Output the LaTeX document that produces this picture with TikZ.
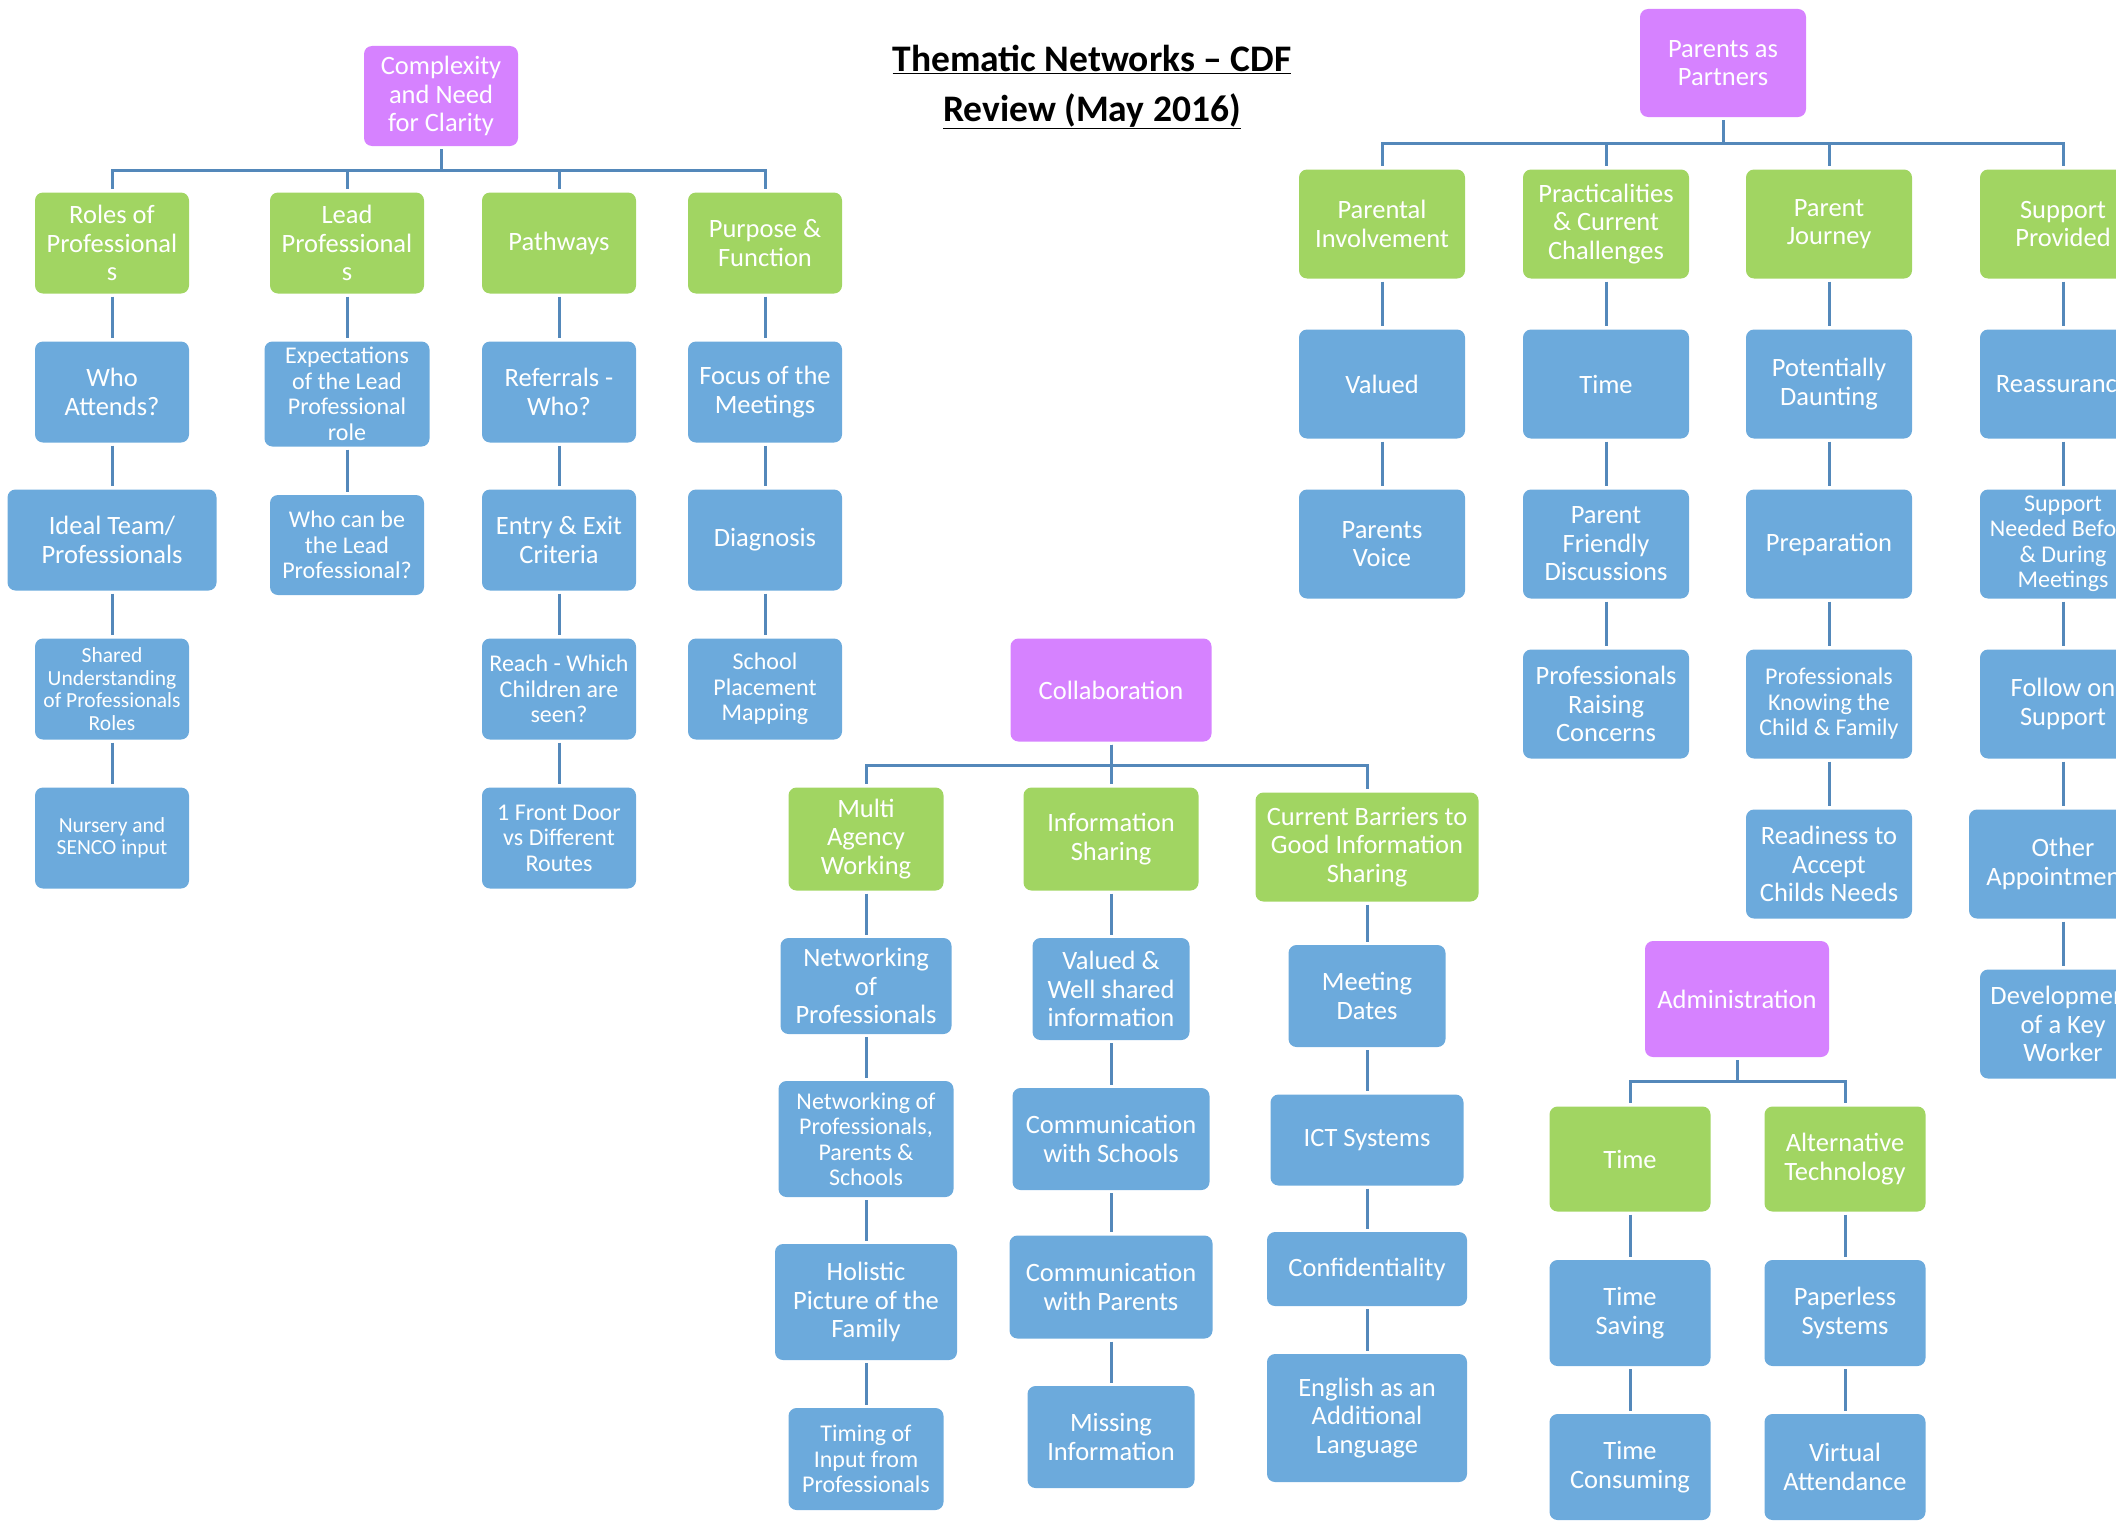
\documentclass[tikz,border=0pt]{standalone}
\usepackage{fontspec}
\setmainfont{Carlito}
\definecolor{purp}{RGB}{214,130,255}
\definecolor{grn}{RGB}{161,213,98}
\definecolor{blu}{RGB}{108,170,220}
\definecolor{lnk}{RGB}{84,136,186}
\begin{document}
\begin{tikzpicture}[x=1pt, y=-1pt,
    wh/.style 2 args={minimum width=#1, minimum height=#2},
    box/.style={rectangle, rounded corners=8pt, text=white, align=center, inner sep=0pt,
                wh={154}{101}, font=\fontsize{26.5}{28.5}\selectfont},
    root/.style={box, fill=purp},
    theme/.style={box, fill=grn},
    sub/.style={box, fill=blu},
    mid/.style={font=\fontsize{24}{25.5}\selectfont},
    tiny/.style={font=\fontsize{21.5}{22.5}\selectfont},
    link/.style={draw=lnk, line width=3pt, shorten >=3pt, shorten <=3pt}]
    \useasboundingbox (0,0) rectangle (2116,1520);
    \clip (0,0) rectangle (2116,1520);

    % タイトル
    \node[font=\fontsize{37.5}{50}\selectfont\bfseries, align=center] (title) at (1092,87)
        {\underline{Thematic Networks – CDF}\\\underline{Review (May 2016)}};

    % Complexity and Need for Clarity
    \node[root, wh={154}{100}] (cnc) at (441,96) {Complexity\\and Need\\for Clarity};
    \node[theme] (roles) at (112,243) {Roles of\\Professional\\s};
    \node[theme] (leadp) at (347,243) {Lead\\Professional\\s};
    \node[theme] (pathw) at (559,243) {Pathways};
    \node[theme] (purpose) at (765,243) {Purpose \&\\Function};
    \node[sub] (attends) at (112,392) {Who\\Attends?};
    \node[sub, mid, wh={165}{105}] (expect) at (347,394) {Expectations\\of the Lead\\Professional\\role};
    \node[sub] (referr) at (559,392) {Referrals -\\Who?};
    \node[sub] (focus) at (765,392) {Focus of the\\Meetings};
    \node[sub, wh={209}{101}] (ideal) at (112,540) {Ideal Team/\\Professionals};
    \node[sub, mid, wh={154}{100}] (whocan) at (347,545) {Who can be\\the Lead\\Professional?};
    \node[sub] (entry) at (559,540) {Entry \& Exit\\Criteria};
    \node[sub] (diag) at (765,540) {Diagnosis};
    \node[sub, tiny] (shared) at (112,689) {Shared\\Understanding\\of Professionals\\Roles};
    \node[sub, mid] (reach) at (559,689) {Reach - Which\\Children are\\seen?};
    \node[sub, mid] (school) at (765,689) {School\\Placement\\Mapping};
    \node[sub, tiny] (nursery) at (112,838) {Nursery and\\SENCO input};
    \node[sub, mid] (front) at (559,838) {1 Front Door\\vs Different\\Routes};

    % Parents as Partners
    \node[root, wh={166}{108}] (pap) at (1723,63) {Parents as\\Partners};
    \node[theme, wh={166}{109}] (pinv) at (1382,224) {Parental\\Involvement};
    \node[theme, wh={166}{109}] (pract) at (1606,224) {Practicalities\\\& Current\\Challenges};
    \node[theme, wh={166}{109}] (pjour) at (1829,224) {Parent\\Journey};
    \node[theme, wh={166}{109}] (suppr) at (2063,224) {Support\\Provided};
    \node[sub, wh={166}{109}] (valued) at (1382,384) {Valued};
    \node[sub, wh={166}{109}] (ptime) at (1606,384) {Time};
    \node[sub, wh={166}{109}] (daunt) at (1829,384) {Potentially\\Daunting};
    \node[sub, wh={166}{109}] (reass) at (2063,384) {Reassurance};
    \node[sub, wh={166}{109}] (pvoice) at (1382,544) {Parents\\Voice};
    \node[sub, wh={166}{109}] (friendly) at (1606,544) {Parent\\Friendly\\Discussions};
    \node[sub, wh={166}{109}] (prep) at (1829,544) {Preparation};
    \node[sub, mid, wh={166}{109}] (needed) at (2063,544) {Support\\Needed Before\\\& During\\Meetings};
    \node[sub, wh={166}{109}] (raising) at (1606,704) {Professionals\\Raising\\Concerns};
    \node[sub, mid, wh={166}{109}] (knowing) at (1829,704) {Professionals\\Knowing the\\Child \& Family};
    \node[sub, wh={166}{109}] (follow) at (2063,704) {Follow on\\Support};
    \node[sub, wh={166}{109}] (ready) at (1829,864) {Readiness to\\Accept\\Childs Needs};
    \node[sub, wh={188}{109}] (other) at (2063,864) {Other\\Appointments};
    \node[sub, wh={166}{109}] (keyw) at (2063,1024) {Development\\of a Key\\Worker};

    % Collaboration
    \node[root, wh={201}{103}] (collab) at (1111,690) {Collaboration};
    \node[theme, wh={155}{103}] (multi) at (866,839) {Multi\\Agency\\Working};
    \node[theme, wh={175}{103}] (infos) at (1111,839) {Information\\Sharing};
    \node[theme, wh={223}{109}] (cbar) at (1367,847) {Current Barriers to\\Good Information\\Sharing};
    \node[sub, wh={171}{96}] (netprof) at (866,986) {Networking\\of\\Professionals};
    \node[sub, mid, wh={175}{116}] (netpar) at (866,1139) {Networking of\\Professionals,\\Parents \&\\Schools};
    \node[sub, wh={182}{116}] (holist) at (866,1302) {Holistic\\Picture of the\\Family};
    \node[sub, mid, wh={155}{102}] (timing) at (866,1459) {Timing of\\Input from\\Professionals};
    \node[sub, wh={157}{102}] (wellsh) at (1111,989) {Valued \&\\Well shared\\information};
    \node[sub, wh={197}{102}] (cschool) at (1111,1139) {Communication\\with Schools};
    \node[sub, wh={203}{103}] (cparent) at (1111,1287) {Communication\\with Parents};
    \node[sub, wh={167}{102}] (missing) at (1111,1437) {Missing\\Information};
    \node[sub, wh={157}{102}] (mdates) at (1367,996) {Meeting\\Dates};
    \node[sub, wh={193}{91}] (ict) at (1367,1140) {ICT Systems};
    \node[sub, wh={200}{74}] (confid) at (1367,1269) {Confidentiality};
    \node[sub, wh={200}{128}] (eal) at (1367,1418) {English as an\\Additional\\Language};

    % Administration
    \node[root, wh={184}{116}] (admin) at (1737,999) {Administration};
    \node[theme, wh={161}{105}] (atime) at (1630,1159) {Time};
    \node[theme, wh={161}{105}] (alttech) at (1845,1159) {Alternative\\Technology};
    \node[sub, wh={161}{106}] (tsave) at (1630,1313) {Time\\Saving};
    \node[sub, wh={161}{106}] (paper) at (1845,1313) {Paperless\\Systems};
    \node[sub, wh={161}{106}] (tcons) at (1630,1467) {Time\\Consuming};
    \node[sub, wh={161}{106}] (virtual) at (1845,1467) {Virtual\\Attendance};

    % 分岐点
    \coordinate (cncbus) at (441,170);
    \coordinate (papbus) at (1723,143);
    \coordinate (colbus) at (1111,765);
    \coordinate (admbus) at (1737,1081);

    % 線を引く
    \draw[link] (cnc) -- (cncbus) -| (roles);
    \draw[link] (cnc) -- (cncbus) -| (leadp);
    \draw[link] (cnc) -- (cncbus) -| (pathw);
    \draw[link] (cnc) -- (cncbus) -| (purpose);
    \draw[link] (roles) -- (attends);
    \draw[link] (attends) -- (ideal);
    \draw[link] (ideal) -- (shared);
    \draw[link] (shared) -- (nursery);
    \draw[link] (leadp) -- (expect);
    \draw[link] (expect) -- (whocan);
    \draw[link] (pathw) -- (referr);
    \draw[link] (referr) -- (entry);
    \draw[link] (entry) -- (reach);
    \draw[link] (reach) -- (front);
    \draw[link] (purpose) -- (focus);
    \draw[link] (focus) -- (diag);
    \draw[link] (diag) -- (school);

    \draw[link] (pap) -- (papbus) -| (pinv);
    \draw[link] (pap) -- (papbus) -| (pract);
    \draw[link] (pap) -- (papbus) -| (pjour);
    \draw[link] (pap) -- (papbus) -| (suppr);
    \draw[link] (pinv) -- (valued);
    \draw[link] (valued) -- (pvoice);
    \draw[link] (pract) -- (ptime);
    \draw[link] (ptime) -- (friendly);
    \draw[link] (friendly) -- (raising);
    \draw[link] (pjour) -- (daunt);
    \draw[link] (daunt) -- (prep);
    \draw[link] (prep) -- (knowing);
    \draw[link] (knowing) -- (ready);
    \draw[link] (suppr) -- (reass);
    \draw[link] (reass) -- (needed);
    \draw[link] (needed) -- (follow);
    \draw[link] (follow) -- (other);
    \draw[link] (other) -- (keyw);

    \draw[link] (collab) -- (colbus) -| (multi);
    \draw[link] (collab) -- (colbus) -| (infos);
    \draw[link] (collab) -- (colbus) -| (cbar);
    \draw[link] (multi) -- (netprof);
    \draw[link] (netprof) -- (netpar);
    \draw[link] (netpar) -- (holist);
    \draw[link] (holist) -- (timing);
    \draw[link] (infos) -- (wellsh);
    \draw[link] (wellsh) -- (cschool);
    \draw[link] (cschool) -- (cparent);
    \draw[link] (cparent) -- (missing);
    \draw[link] (cbar) -- (mdates);
    \draw[link] (mdates) -- (ict);
    \draw[link] (ict) -- (confid);
    \draw[link] (confid) -- (eal);

    \draw[link] (admin) -- (admbus) -| (atime);
    \draw[link] (admin) -- (admbus) -| (alttech);
    \draw[link] (atime) -- (tsave);
    \draw[link] (tsave) -- (tcons);
    \draw[link] (alttech) -- (paper);
    \draw[link] (paper) -- (virtual);
\end{tikzpicture}
\end{document}
